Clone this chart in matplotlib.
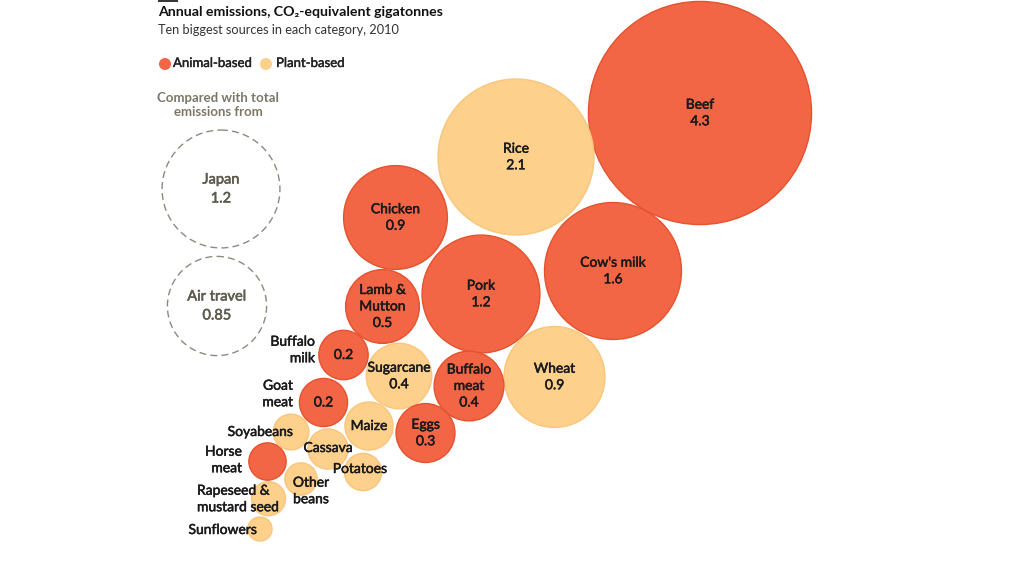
"""Bubble chart: annual food emissions, ten biggest animal- and plant-based sources."""
import numpy as np
import matplotlib.pyplot as plt
import matplotlib.patheffects as pe
from matplotlib.patches import Circle

plt.rcParams['font.family'] = ['Lato', 'DejaVu Sans']

# --- data (gigatonnes CO2e, 2010) ------------------------------------------------------
names = ["Beef", "Rice", "Cow's milk", "Pork", "Chicken", "Wheat", "Lamb &\nMutton",
         "Buffalo\nmeat", "Sugarcane", "Eggs", "Buffalo\nmilk", "Goat\nmeat", "Maize",
         "Cassava", "Potatoes", "Horse\nmeat", "Soyabeans", "Rapeseed &\nmustard seed",
         "Other\nbeans", "Sunflowers"]
values = [4.3, 2.1, 1.62, 1.2, 0.93, 0.88, 0.47, 0.42, 0.37, 0.3, 0.21, 0.2, 0.2,
          0.14, 0.12, 0.12, 0.11, 0.1, 0.09, 0.05]
group = ["animal", "plant", "animal", "animal", "animal", "plant", "animal",
         "animal", "plant", "animal", "animal", "animal", "plant",
         "plant", "plant", "animal", "plant", "plant", "plant", "plant"]
# labelled value shown only for the bigger sources
show_value = [True] * 12 + [False] * 8

ref_names = ["Japan", "Air travel"]
ref_values = [1.2, 0.85]
ref_labels = ["1.2", "0.85"]

# --- layout (pixel space, y downwards) ------------------------------------------------
SCALE = 53.8  # px radius per sqrt(Gt)
centers = {
    "Beef": (700, 113), "Rice": (516, 157), "Cow's milk": (613, 271), "Pork": (481, 294),
    "Chicken": (395.5, 217.5), "Wheat": (554.5, 377), "Lamb &\nMutton": (382.5, 306.5),
    "Buffalo\nmeat": (469, 386), "Sugarcane": (399, 376), "Eggs": (425.5, 433),
    "Buffalo\nmilk": (343.5, 355), "Goat\nmeat": (323.5, 402.5), "Maize": (369, 426),
    "Cassava": (328, 449), "Potatoes": (363, 472), "Horse\nmeat": (267.5, 461.5),
    "Soyabeans": (291, 432), "Rapeseed &\nmustard seed": (268.5, 498.7),
    "Other\nbeans": (301, 479), "Sunflowers": (260, 529),
}
# labels placed beside their circle: (x, y, ha)
outside = {
    "Buffalo\nmilk": (315, 350, "right"), "Goat\nmeat": (293, 394, "right"),
    "Soyabeans": (293, 432, "right"), "Horse\nmeat": (242, 460, "right"),
    "Rapeseed &\nmustard seed": (197, 499, "left"), "Sunflowers": (257, 530, "right"),
    "Cassava": (328, 448, "center"), "Potatoes": (360, 469, "center"),
    "Other\nbeans": (311, 491, "center"),
}
ref_centers = [(221, 189), (217, 306)]

FILL = {"animal": "#F26646", "plant": "#FDD08C"}
EDGE = {"animal": "#E4522E", "plant": "#F9C67C"}
TXT = "#1a1a1a"
GREY = "#5e5c50"
FS = 10
LS = 1.45


def heavy(c, w=0.35):
    # Lato has no medium weight installed: thicken regular glyphs slightly
    return [pe.withStroke(linewidth=w, foreground=c)]


fig = plt.figure(figsize=(10.24, 5.65), dpi=100)
ax = fig.add_axes([0, 0, 1, 1])
ax.set_xlim(0, 1024)
ax.set_ylim(565, 0)
ax.set_aspect("equal")
ax.axis("off")

for name, v, g, sv in zip(names, values, group, show_value):
    cx, cy = centers[name]
    r = SCALE * np.sqrt(v)
    ax.add_patch(Circle((cx, cy), r, facecolor=FILL[g], edgecolor=EDGE[g], lw=1.0))
    if name in outside:
        tx, ty, ha = outside[name]
        ax.text(tx, ty, name, ha=ha, va="center", fontsize=FS, color=TXT,
                linespacing=LS, path_effects=heavy(TXT))
        if sv:
            ax.text(cx, cy, f"{v:.1f}", ha="center", va="center", fontsize=FS,
                    color=TXT, path_effects=heavy(TXT))
    else:
        label = f"{name}\n{v:.1f}" if sv else name
        ax.text(cx, cy, label, ha="center", va="center", fontsize=FS, color=TXT,
                linespacing=LS, path_effects=heavy(TXT))

for (cx, cy), n, v, lab in zip(ref_centers, ref_names, ref_values, ref_labels):
    ax.add_patch(Circle((cx, cy), SCALE * np.sqrt(v), facecolor="none",
                        edgecolor="#8c8a80", lw=1.0, ls=(0, (5, 3))))
    ax.text(cx, cy, f"{n}\n{lab}", ha="center", va="center", fontsize=10.5,
            color=GREY, linespacing=LS, path_effects=heavy(GREY, 0.4))

# --- header ---------------------------------------------------------------------------
ax.plot([158, 178], [0.8, 0.8], color="#333333", lw=1.4, solid_capstyle="butt")
ax.text(158, 12, "Annual emissions, CO\u2082-equivalent gigatonnes", fontsize=10.2,
        fontweight="bold", color="#111111", va="center", ha="left")
ax.text(158, 30, "Ten biggest sources in each category, 2010", fontsize=9.2,
        color="#333333", va="center", ha="left")
ax.add_patch(Circle((165, 64), 6, facecolor=FILL["animal"], edgecolor="none"))
ax.text(173, 63, "Animal-based", fontsize=9.5, color="#222222", va="center",
        path_effects=heavy("#222222", 0.3))
ax.add_patch(Circle((266, 64), 6, facecolor=FILL["plant"], edgecolor="none"))
ax.text(276, 63, "Plant-based", fontsize=9.5, color="#222222", va="center",
        path_effects=heavy("#222222", 0.3))
ax.text(218, 105, "Compared with total\nemissions from", fontsize=9.5, fontweight="bold",
        color="#7b7868", ha="center", va="center", linespacing=1.3)

fig.savefig("out.png", dpi=100)
